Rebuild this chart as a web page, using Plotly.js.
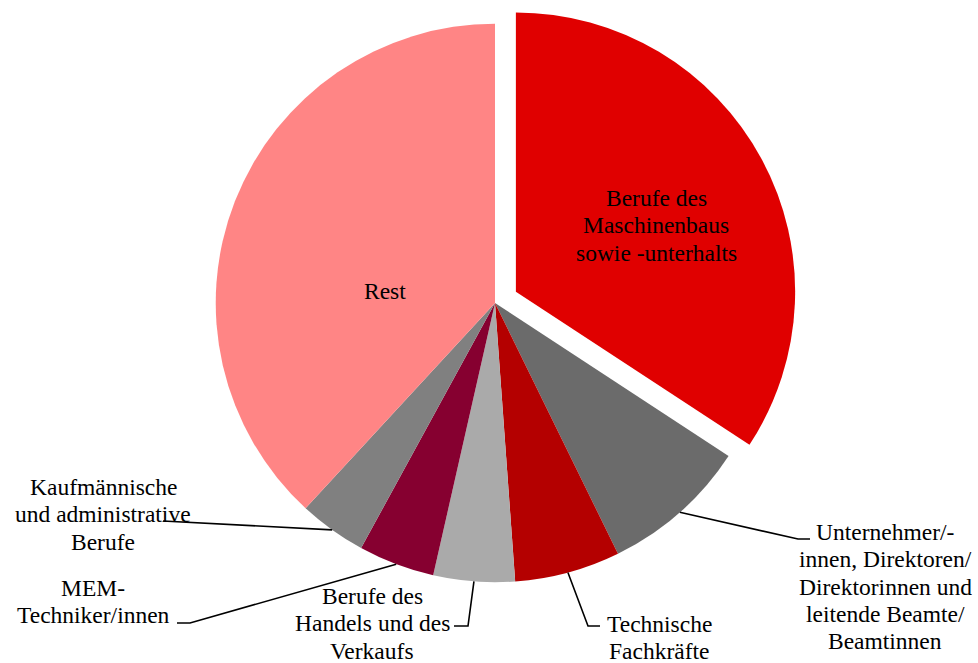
<!DOCTYPE html>
<html>
<head>
<meta charset="utf-8">
<script src="https://cdn.plot.ly/plotly-3.0.1.min.js"></script>
<style>html,body{margin:0;padding:0;background:#fff;}#chart{width:978px;height:663px;}</style>
</head>
<body>
<div id="chart"></div>
<script>
// ---- data ----
const categories = [
  "Berufe des<br>Maschinenbaus<br>sowie -unterhalts",
  "Unternehmer/-<br>innen, Direktoren/<br>Direktorinnen und<br>leitende Beamte/<br>Beamtinnen",
  "Technische<br>Fachkräfte",
  "Berufe des<br>Handels und des<br>Verkaufs",
  "MEM-<br>Techniker/innen",
  "Kaufmännische<br>und administrative<br>Berufe",
  "Rest"
];
const values = [34.2, 8.5, 6.1, 4.7, 4.4, 3.9, 38.1];
const colors = ["#E00000", "#6B6B6B", "#B40000", "#AAAAAA", "#860030", "#808080", "#FF8585"];
const pulls = [0.085, 0, 0, 0, 0, 0, 0];

// ---- layout constants (pixels) ----
const W = 978, H = 663;
const CX = 495, CY = 303;          // pie centre
const HALF = 303;                  // half of the pie box height
const FS = 23.5;
const LINE = 27.3;
// label centre x and first baseline y for each slice
const labelPos = [[656, 206], [885, 540], [659, 632], [372, 604], [93, 596], [103, 495], [385, 299]];
// leader line points after the arc point (null = inside label)
const leaders = [
  null,
  [[798, 539], [810, 539]],
  [[588, 626], [600, 626]],
  [[468, 626], [454, 626]],
  [[190, 623], [177, 623]],
  [[163, 521]],
  null
];

const px = x => x / W;
const py = y => 1 - y / H;

const maxPull = Math.max(...pulls);
const R = HALF / (1 + maxPull);
const total = values.reduce((a, b) => a + b, 0);

const annotations = [];
const shapes = [];
let cum = 0;
values.forEach((v, i) => {
  const mid = (cum + v / 2) / total * 2 * Math.PI;
  cum += v;
  const ax = CX + R * Math.sin(mid), ay = CY - R * Math.cos(mid);
  const lines = categories[i].split("<br>");
  lines.forEach((t, k) => {
    annotations.push({
      text: t, showarrow: false, xref: "paper", yref: "paper",
      x: px(labelPos[i][0]), y: py(labelPos[i][1] + k * LINE - 0.3375 * FS),
      xanchor: "center", yanchor: "middle",
      font: {family: "Liberation Serif, 'Times New Roman', serif", size: FS, color: "#000"}
    });
  });
  if (leaders[i]) {
    let d = "M" + px(ax) + "," + py(ay);
    leaders[i].forEach(p => { d += " L" + px(p[0]) + "," + py(p[1]); });
    shapes.push({type: "path", xref: "paper", yref: "paper", path: d,
      line: {color: "#000", width: 1.6}});
  }
});

const trace = {
  type: "pie",
  labels: categories,
  values: values,
  sort: false,
  direction: "clockwise",
  rotation: 0,
  pull: pulls,
  textinfo: "none",
  hoverinfo: "label+percent",
  marker: {colors: colors, line: {width: 0}},
  domain: {x: [px(CX - 340), px(CX + 340)], y: [py(CY + HALF), py(CY - HALF)]}
};

const layout = {
  width: W, height: H,
  margin: {l: 0, r: 0, t: 0, b: 0},
  showlegend: false,
  paper_bgcolor: "#fff",
  annotations: annotations,
  shapes: shapes
};

Plotly.newPlot("chart", [trace], layout, {displayModeBar: false, staticPlot: true});
</script>
</body>
</html>
